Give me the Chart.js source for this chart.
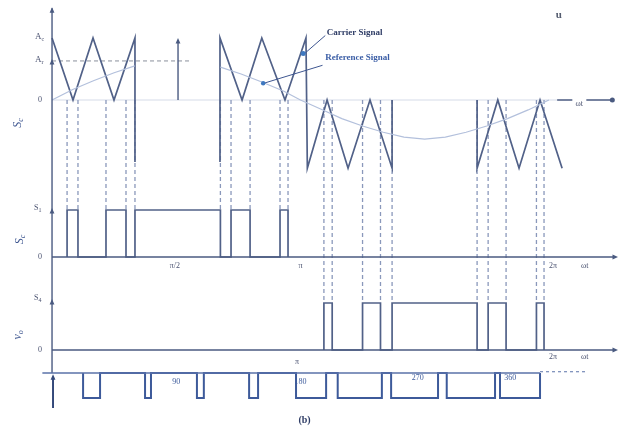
<!DOCTYPE html>
<html>
<head>
<meta charset="utf-8">
<script src="https://cdn.jsdelivr.net/npm/chart.js@4.4.0/dist/chart.umd.min.js"></script>
<style>
  html, body { margin: 0; padding: 0; background: #fff; }
  #wrap { width: 618px; height: 431px; }
</style>
</head>
<body>
<div id="wrap"><canvas id="c" width="618" height="431"></canvas></div>
<script>
// carrier triangles: [angle in degrees, value in units of Ac]
const carrier1 = [[0, 1], [15.2, 0], [29.7, 1], [44.9, 0], [60.1, 1], [60.1, -1]];
const carrier2 = [[121.7, -1], [121.7, 1], [137.7, 0], [152, 1], [168.8, 0], [184, 1],
                  [185, -1.1], [199.3, 0], [214.5, -1.1], [230.4, 0], [246.4, -1.1], [246.4, 0]];
const carrier3 = [[308, 0], [308, -1.1], [323, 0], [338.4, -1.1], [353.6, 0], [369.6, -1.1]];

// reference signal
const refX1 = [0, 15, 30, 45, 60];
const refY1 = [0, 0.17, 0.31, 0.44, 0.55];
const refX2 = [122, 137, 152, 168, 180, 195, 210, 225, 240, 255, 270, 285, 300, 315, 330, 345, 360];
const refY2 = [0.53, 0.42, 0.29, 0.14, 0, -0.15, -0.3, -0.42, -0.52, -0.6, -0.63, -0.6, -0.52, -0.42, -0.3, -0.16, 0];
const refAmp = 0.63;

// switching pulses (edges in degrees)
const s1On  = [10.9, 39.1, 60.1, 129.7, 165.2];
const s1Off = [18.8, 53.6, 122, 143.5, 171];
const s4On  = [197, 225, 246.4, 316, 351];
const s4Off = [203, 238, 308, 329, 356.5];
const voOn  = [22.5, 67.4, 105, 142.8, 176.8, 207, 245.7, 286, 324.6];
const voOff = [34.8, 71.7, 110, 149.3, 198.6, 239, 279.7, 321, 353.6];

// tick labels
const s1TickX = [89, 180, 363, 386];
const s1TickText = ['π/2', 'π', '2π', 'ωt'];
const s4TickX = [177.5, 363, 386];
const s4TickText = ['π', '2π', 'ωt'];
const degTickX = [90, 180, 265, 332];
const degTickText = ['90', '180', '270', '360'];

const LINE = '#516188';
const AXIS = '#4a5a80';
const DASH = '#8a98bb';
const REF = '#b3c0dc';

function pts(xs, ys) { return xs.map((x, i) => ({ x: x, y: ys[i] })); }
function pairs(a) { return a.map(p => ({ x: p[0], y: p[1] })); }
function pulses(on, off) {
    const out = [];
    on.forEach((a, i) => {
        out.push({ x: a, y: 0 }, { x: a, y: 1 }, { x: off[i], y: 1 }, { x: off[i], y: 0 });
    });
    return out;
}
function ds(data, axis, color, width, dash) {
    return {
        data: data, yAxisID: axis, borderColor: color, borderWidth: width,
        borderDash: dash || [], showLine: true, pointRadius: 0, fill: false, tension: 0
    };
}

function arrowUp(ctx, x, y, s) {
    ctx.beginPath(); ctx.moveTo(x, y); ctx.lineTo(x - s * 0.6, y + s * 1.4); ctx.lineTo(x + s * 0.6, y + s * 1.4); ctx.closePath(); ctx.fill();
}
function arrowRight(ctx, x, y, s) {
    ctx.beginPath(); ctx.moveTo(x, y); ctx.lineTo(x - s * 1.4, y - s * 0.6); ctx.lineTo(x - s * 1.4, y + s * 0.6); ctx.closePath(); ctx.fill();
}
function seg(ctx, x1, y1, x2, y2) {
    ctx.beginPath(); ctx.moveTo(x1, y1); ctx.lineTo(x2, y2); ctx.stroke();
}
function subText(ctx, main, sub, x, y, size) {
    ctx.textAlign = 'left';
    ctx.font = size + 'px "Liberation Serif"';
    ctx.fillText(main, x, y);
    const w = ctx.measureText(main).width;
    ctx.font = Math.round(size * 0.7) + 'px "Liberation Serif"';
    ctx.fillText(sub, x + w, y + size * 0.3);
}

const decor = {
    id: 'decor',
    beforeDatasetsDraw(chart) {
        const ctx = chart.ctx;
        const X = chart.scales.x, yc = chart.scales.yc, y1 = chart.scales.ys1, y4 = chart.scales.ys4;
        const ax = X.getPixelForValue(0);
        ctx.save();
        // faint zero line of carrier panel
        ctx.strokeStyle = '#d5dbe8'; ctx.lineWidth = 1;
        seg(ctx, ax, yc.getPixelForValue(0), X.getPixelForValue(366), yc.getPixelForValue(0));
        // Ar dashed level
        ctx.strokeStyle = '#8a8f9c'; ctx.setLineDash([4, 3]);
        seg(ctx, ax, yc.getPixelForValue(refAmp), X.getPixelForValue(100), yc.getPixelForValue(refAmp));
        // connectors from carrier to pulses
        ctx.strokeStyle = DASH; ctx.lineWidth = 1.3; ctx.setLineDash([4, 3]);
        s1On.concat(s1Off).forEach(a => {
            const px = X.getPixelForValue(a);
            seg(ctx, px, yc.getPixelForValue(0), px, y1.getPixelForValue(1));
        });
        s4On.concat(s4Off).forEach(a => {
            const px = X.getPixelForValue(a);
            seg(ctx, px, yc.getPixelForValue(0), px, y4.getPixelForValue(1));
        });
        ctx.restore();
    },
    afterDatasetsDraw(chart) {
        const ctx = chart.ctx;
        const X = chart.scales.x, yc = chart.scales.yc, y1 = chart.scales.ys1, y4 = chart.scales.ys4, yb = chart.scales.yb;
        const ax = X.getPixelForValue(0);
        const xEnd = X.getPixelForValue(408);
        ctx.save();
        ctx.strokeStyle = AXIS; ctx.fillStyle = AXIS; ctx.lineWidth = 1.4;
        // main vertical axis
        seg(ctx, ax, yc.getPixelForValue(1.48), ax, yb.getPixelForValue(0));
        arrowUp(ctx, ax, yc.getPixelForValue(1.48) - 1, 4);
        arrowUp(ctx, ax, yc.getPixelForValue(refAmp) - 2, 4);
        arrowUp(ctx, ax, y1.getPixelForValue(1) - 2, 4);
        arrowUp(ctx, ax, y4.getPixelForValue(1) - 4, 4);
        // horizontal axes
        seg(ctx, ax, y1.getPixelForValue(0), xEnd, y1.getPixelForValue(0));
        arrowRight(ctx, xEnd + 3, y1.getPixelForValue(0), 4);
        seg(ctx, ax, y4.getPixelForValue(0), xEnd, y4.getPixelForValue(0));
        arrowRight(ctx, xEnd + 3, y4.getPixelForValue(0), 4);
        seg(ctx, X.getPixelForValue(366), yc.getPixelForValue(0), X.getPixelForValue(406), yc.getPixelForValue(0));
        ctx.beginPath(); ctx.arc(X.getPixelForValue(406), yc.getPixelForValue(0), 2.5, 0, Math.PI * 2); ctx.fill();
        // arrow in the gap
        const gx = X.getPixelForValue(91.3);
        seg(ctx, gx, yc.getPixelForValue(0), gx, yc.getPixelForValue(0.95));
        arrowUp(ctx, gx, yc.getPixelForValue(1), 4);
        // bottom strip baseline
        ctx.strokeStyle = '#5a72a8'; ctx.lineWidth = 1.6;
        seg(ctx, X.getPixelForValue(-7), yb.getPixelForValue(0), X.getPixelForValue(353.6), yb.getPixelForValue(0));
        ctx.setLineDash([3, 3]); ctx.lineWidth = 1;
        seg(ctx, X.getPixelForValue(353.6), yb.getPixelForValue(-0.05), X.getPixelForValue(388), yb.getPixelForValue(-0.05));
        ctx.setLineDash([]);
        ctx.strokeStyle = '#34497a'; ctx.fillStyle = '#34497a'; ctx.lineWidth = 2;
        seg(ctx, ax + 1, yb.getPixelForValue(0.2), ax + 1, yb.getPixelForValue(1.4));
        arrowUp(ctx, ax + 1, yb.getPixelForValue(0.05), 4);

        // pointers to the signals
        ctx.strokeStyle = '#3e5690'; ctx.fillStyle = '#3e78c0'; ctx.lineWidth = 1;
        seg(ctx, X.getPixelForValue(198), yc.getPixelForValue(1.04), X.getPixelForValue(182), yc.getPixelForValue(0.73));
        ctx.beginPath(); ctx.arc(X.getPixelForValue(182), yc.getPixelForValue(0.75), 2.5, 0, Math.PI * 2); ctx.fill();
        seg(ctx, X.getPixelForValue(196), yc.getPixelForValue(0.56), X.getPixelForValue(152), yc.getPixelForValue(0.26));
        ctx.beginPath(); ctx.arc(X.getPixelForValue(153), yc.getPixelForValue(0.27), 2.2, 0, Math.PI * 2); ctx.fill();

        // texts
        ctx.textBaseline = 'middle';
        ctx.fillStyle = '#2f3d66';
        ctx.font = 'bold 9px "Liberation Serif"';
        ctx.textAlign = 'left';
        ctx.fillText('Carrier Signal', X.getPixelForValue(199), yc.getPixelForValue(1.08));
        ctx.fillStyle = '#3b5ea6';
        ctx.fillText('Reference Signal', X.getPixelForValue(198), yc.getPixelForValue(0.68));
        ctx.fillStyle = '#555d70';
        ctx.font = 'bold 11px "Liberation Serif"';
        ctx.fillText('u', X.getPixelForValue(365), yc.getPixelForValue(1.37));

        ctx.fillStyle = '#4a5270';
        subText(ctx, 'A', 'c', ax - 17, yc.getPixelForValue(1.02), 9);
        subText(ctx, 'A', 'r', ax - 17, yc.getPixelForValue(refAmp + 0.02), 9);
        ctx.textAlign = 'right';
        ctx.font = '8px "Liberation Serif"';
        ctx.fillText('0', ax - 10, yc.getPixelForValue(0));
        ctx.fillText('0', ax - 10, y1.getPixelForValue(0));
        ctx.fillText('0', ax - 10, y4.getPixelForValue(0));
        subText(ctx, 'S', '1', ax - 18, y1.getPixelForValue(1.05), 8);
        subText(ctx, 'S', '4', ax - 18, y4.getPixelForValue(1.1), 8);

        // rotated axis titles
        const rot = (txt, sub, x, y) => {
            ctx.save(); ctx.translate(x, y); ctx.rotate(-Math.PI / 2);
            ctx.textAlign = 'left';
            ctx.font = 'italic 12px "Liberation Serif"';
            ctx.fillText(txt, -6, 0);
            const w = ctx.measureText(txt).width;
            ctx.font = 'italic 8px "Liberation Serif"';
            ctx.fillText(sub, -6 + w, 3);
            ctx.restore();
        };
        ctx.fillStyle = '#3e5690';
        rot('S', 'c', X.getPixelForValue(-25), yc.getPixelForValue(-0.35));
        rot('S', 'c', X.getPixelForValue(-23.5), y1.getPixelForValue(0.4));
        rot('v', 'o', X.getPixelForValue(-25), y4.getPixelForValue(0.35));

        ctx.fillStyle = '#4a5270';
        ctx.textAlign = 'center';
        ctx.font = '8px "Liberation Serif"';
        s1TickX.forEach((a, i) => ctx.fillText(s1TickText[i], X.getPixelForValue(a), y1.getPixelForValue(-0.2)));
        s4TickX.forEach((a, i) => ctx.fillText(s4TickText[i], X.getPixelForValue(a), y4.getPixelForValue(i === 0 ? -0.25 : -0.15)));
        ctx.fillStyle = '#fff';
        ctx.fillRect(X.getPixelForValue(377), yc.getPixelForValue(0) - 4, 14, 8);
        ctx.fillStyle = '#4a5270';
        ctx.fillText('ωt', X.getPixelForValue(382), yc.getPixelForValue(-0.06));

        ctx.fillStyle = '#3e5c9c';
        ctx.font = '8px "Liberation Serif"';
        degTickX.forEach((a, i) => ctx.fillText(degTickText[i], X.getPixelForValue(a), yb.getPixelForValue(i < 2 ? 0.35 : 0.2)));
        ctx.fillStyle = '#2f3d66';
        ctx.font = 'bold 10px "Liberation Serif"';
        ctx.fillText('(b)', X.getPixelForValue(183), yb.getPixelForValue(1.9));
        ctx.restore();
    }
};

new Chart(document.getElementById('c'), {
    type: 'scatter',
    data: {
        datasets: [
            ds(pts(refX1, refY1), 'yc', REF, 1.2),
            ds(pts(refX2, refY2), 'yc', REF, 1.2),
            ds(pairs(carrier1), 'yc', LINE, 1.7),
            ds(pairs(carrier2), 'yc', LINE, 1.7),
            ds(pairs(carrier3), 'yc', LINE, 1.7),
            ds(pulses(s1On, s1Off), 'ys1', LINE, 1.7),
            ds(pulses(s4On, s4Off), 'ys4', LINE, 1.7),
            ds(pulses(voOn, voOff), 'yb', '#3d5a9a', 2)
        ]
    },
    options: {
        responsive: false,
        animation: false,
        layout: { padding: 0 },
        plugins: { legend: { display: false }, tooltip: { enabled: false } },
        scales: {
            x: { type: 'linear', display: false, min: -37.7, max: 410.1 },
            yc: { type: 'linear', display: false, min: -5.339, max: 1.613 },
            ys1: { type: 'linear', display: false, min: -3.702, max: 5.468 },
            ys4: { type: 'linear', display: false, min: -1.723, max: 7.447 },
            yb: { type: 'linear', display: false, min: -14.92, max: 2.32, reverse: true }
        }
    },
    plugins: [decor]
});
</script>
</body>
</html>
